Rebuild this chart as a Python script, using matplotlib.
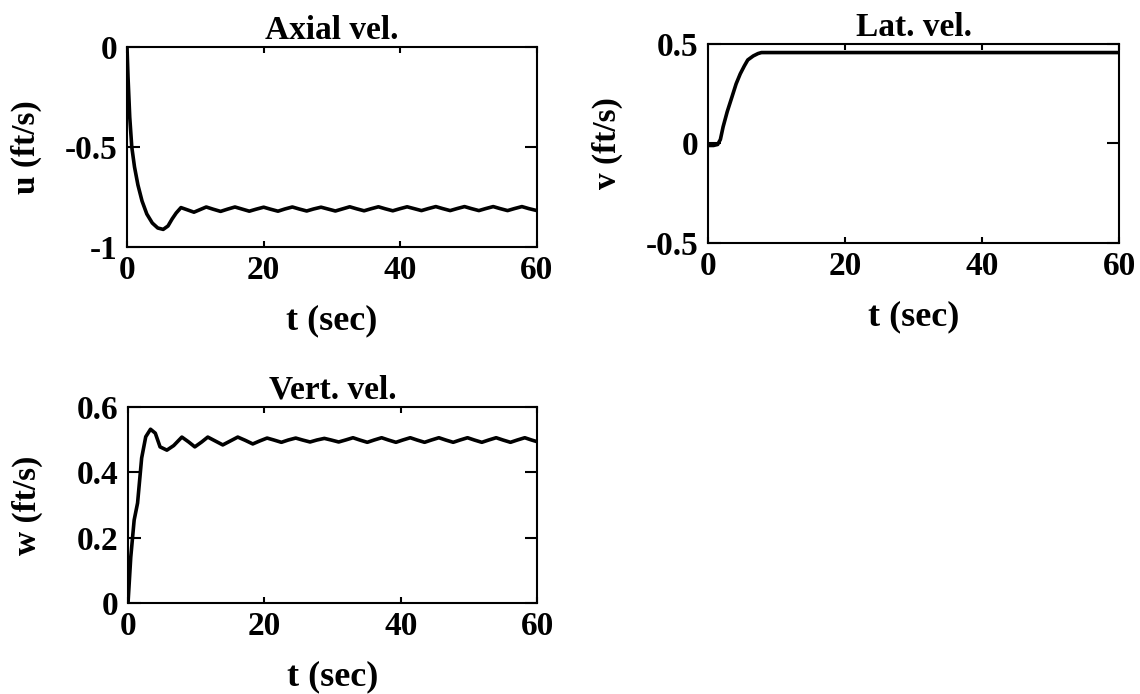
import numpy as np
import matplotlib.pyplot as plt

plt.rcParams.update({
    "font.family": ["Liberation Serif", "DejaVu Serif"],
    "font.weight": "bold",
    "font.size": 24,
    "axes.unicode_minus": False,
    "axes.linewidth": 1.5,
})

# Axial velocity response
u_t = [0, 0.15, 0.4, 0.7, 1.1, 1.6, 2.2, 2.9, 3.7, 4.5, 5.3, 6.0, 6.6, 7.2,
       7.9, 8.9, 9.8, 10.7, 11.6, 12.6, 13.7, 14.7, 15.8, 16.8, 17.9, 18.9,
       20.0, 21.0, 22.1, 23.1, 24.2, 25.2, 26.3, 27.3, 28.4, 29.4, 30.5, 31.5,
       32.6, 33.6, 34.7, 35.7, 36.8, 37.8, 38.9, 39.9, 41.0, 42.0, 43.1, 44.1,
       45.2, 46.2, 47.3, 48.3, 49.4, 50.4, 51.5, 52.5, 53.6, 54.6, 55.7, 56.7,
       57.8, 58.8, 60.0]
u_v = [0, -0.15, -0.35, -0.5, -0.6, -0.69, -0.77, -0.835, -0.88, -0.905,
       -0.912, -0.895, -0.86, -0.83,
       -0.803, -0.815, -0.826, -0.813, -0.800, -0.811, -0.822, -0.811,
       -0.800, -0.810, -0.821, -0.811, -0.801, -0.811, -0.821, -0.810,
       -0.800, -0.810, -0.820, -0.810, -0.801, -0.810, -0.820, -0.810,
       -0.799, -0.809, -0.819, -0.809, -0.799, -0.809, -0.819, -0.809,
       -0.799, -0.808, -0.818, -0.808, -0.798, -0.808, -0.818, -0.808,
       -0.798, -0.808, -0.818, -0.808, -0.798, -0.808, -0.818, -0.808,
       -0.798, -0.808, -0.818]

# Lateral velocity response
v_t = [0, 0.8, 1.4, 1.8, 2.2, 2.8, 3.5, 4.1, 4.7, 5.3, 5.8, 6.6, 7.3, 7.8, 60.0]
v_v = [-0.01, -0.01, -0.005, 0.02, 0.084, 0.16, 0.235, 0.30, 0.35, 0.39,
       0.42, 0.44, 0.452, 0.457, 0.457]

# Vertical velocity response
w_t = [0, 0.4, 0.9, 1.4, 2.0, 2.6, 3.3, 4.0, 4.7, 5.7, 6.7,
       7.9, 8.9, 9.8, 10.8, 11.7, 12.8, 13.9, 15.0, 16.1, 17.2, 18.3, 19.3,
       20.4, 21.4, 22.5, 23.5, 24.6, 25.6, 26.7, 27.7, 28.8, 29.8, 30.9, 31.9,
       33.0, 34.0, 35.1, 36.1, 37.2, 38.2, 39.3, 40.3, 41.4, 42.4, 43.5, 44.5,
       45.6, 46.6, 47.7, 48.7, 49.8, 50.8, 51.9, 52.9, 54.0, 55.0, 56.1, 57.1,
       58.2, 59.2, 60.0]
w_v = [0, 0.14, 0.254, 0.306, 0.444, 0.509, 0.532, 0.52, 0.478, 0.468, 0.482,
       0.508, 0.493, 0.478, 0.493, 0.508, 0.496, 0.484, 0.496, 0.508, 0.498,
       0.487, 0.496, 0.505, 0.499, 0.492, 0.499, 0.505, 0.499, 0.493, 0.499,
       0.504, 0.499, 0.493, 0.499, 0.506, 0.499, 0.492, 0.499, 0.506, 0.499,
       0.492, 0.499, 0.506, 0.499, 0.492, 0.499, 0.506, 0.499, 0.492, 0.499,
       0.506, 0.499, 0.492, 0.499, 0.506, 0.499, 0.492, 0.499, 0.506, 0.499,
       0.494]

t_ticks = [0, 20, 40, 60]
t_labels = ["0", "20", "40", "60"]
panels = [
    ("Axial vel.", "u (ft/s)", u_t, u_v, (-1, 0), [-1, -0.5, 0], ["-1", "-0.5", "0"],
     [0.1114, 0.6441, 0.3596, 0.2882]),
    ("Lat. vel.", "v (ft/s)", v_t, v_v, (-0.5, 0.5), [-0.5, 0, 0.5], ["-0.5", "0", "0.5"],
     [0.6211, 0.6499, 0.3605, 0.2867]),
    ("Vert. vel.", "w (ft/s)", w_t, w_v, (0, 0.6), [0, 0.2, 0.4, 0.6], ["0", "0.2", "0.4", "0.6"],
     [0.1123, 0.1311, 0.3588, 0.2824]),
]

fig = plt.figure(figsize=(11.4, 6.94), dpi=100)

for title, ylab, t, y, ylim, yt, ytl, rect in panels:
    ax = fig.add_axes(rect)
    ax.plot(t, y, color="black", lw=2.6, solid_joinstyle="round")
    ax.set_xlim(0, 60)
    ax.set_ylim(*ylim)
    ax.set_xticks(t_ticks)
    ax.set_xticklabels(t_labels)
    ax.set_yticks(yt)
    ax.set_yticklabels(ytl)
    ax.tick_params(direction="in", top=True, right=True, width=1.5)
    ax.tick_params(axis="x", length=4.5, pad=6)
    ax.tick_params(axis="y", length=9, pad=7)
    ax.set_title(title, fontsize=24, fontweight="bold", pad=6)
    ax.set_xlabel("t (sec)", fontsize=26, fontweight="bold", labelpad=13)
    ax.set_ylabel(ylab, fontweight="bold")
    ax.yaxis.set_label_coords(-0.207, 0.5)

fig.savefig("out.png", dpi=100)
